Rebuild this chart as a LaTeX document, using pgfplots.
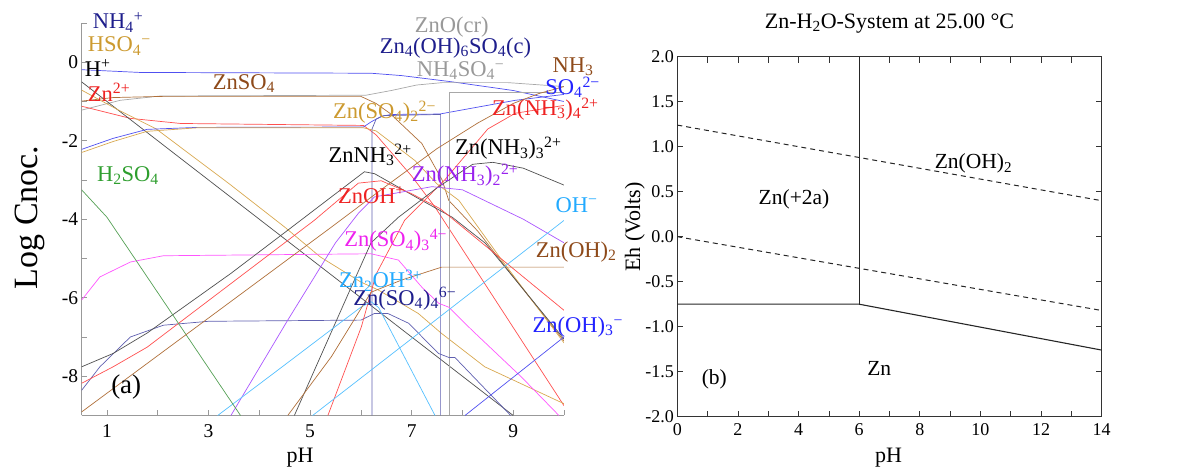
\documentclass[border=0pt]{standalone}
\usepackage{fontspec}
\setmainfont{Liberation Serif}
\usepackage{pgfplots}
\pgfplotsset{compat=1.18}
\definecolor{lBlue}{HTML}{5050F0}
\definecolor{lGray}{HTML}{A8A8A8}
\definecolor{lBrown}{HTML}{B0703A}
\definecolor{lRed}{HTML}{FF5050}
\definecolor{lBlack}{HTML}{505050}
\definecolor{lGold}{HTML}{D8A850}
\definecolor{lNavy}{HTML}{6060B0}
\definecolor{lMag}{HTML}{FF55FF}
\definecolor{lPurple}{HTML}{AA55FF}
\definecolor{lLB}{HTML}{55C0FF}
\definecolor{lGreen}{HTML}{55A055}
\definecolor{tNavy}{HTML}{1E1E8C}
\definecolor{tGold}{HTML}{CC9A30}
\definecolor{tRed}{HTML}{EE2222}
\definecolor{tBrown}{HTML}{8E4A1A}
\definecolor{tGreen}{HTML}{2E9E2E}
\definecolor{tGray}{HTML}{999999}
\definecolor{tBlue}{HTML}{2222FF}
\definecolor{tPurple}{HTML}{9922EE}
\definecolor{tLB}{HTML}{22AAFF}
\definecolor{tMag}{HTML}{EE22EE}
\newcommand{\Sb}[1]{\textsubscript{#1}}
\newcommand{\Sp}[1]{\textsuperscript{#1}}
\begin{document}
\begin{tikzpicture}[x=1pt,y=1pt]
\useasboundingbox (0,0) rectangle (1187,470);
% ---------------- left panel ----------------
\begin{axis}[at={(81.6pt,54.5pt)}, anchor=south west, scale only axis,
  width=482.4pt, height=392.5pt,
  xmin=0.5, xmax=10, ymin=-9, ymax=1,
  axis x line=bottom, axis y line=left,
  axis line style={-, gray!80, line width=0.7pt},
  tick align=inside,
  xtick={1,3,5,7,9}, xticklabels={1,3,5,7,9},
  minor xtick={2,4,6,8,10},
  ytick={-8,-6,-4,-2,0}, yticklabels={-8,-6,-4,-2,0},
  minor ytick={-9,-7,-5,-3,-1,1},
  major tick length=5pt, minor tick length=5pt,
  tick style={gray!80, line width=0.6pt},
  ticklabel style={font=\fontsize{19.5}{19.5}\selectfont},
  xticklabel style={yshift=-6pt},
  xlabel={pH},
  xlabel style={at={(axis description cs:0.453,0)}, anchor=center, yshift=-42pt, font=\fontsize{22}{22}\selectfont},
  ylabel={Log Cnoc.},
  ylabel style={at={(axis description cs:-0.107,0.505)}, anchor=center, font=\fontsize{34}{34}\selectfont},
  clip mode=individual,
  every axis plot/.append style={line width=0.7pt, line join=round},
  label style={inner sep=0pt}]
% NH4+
\addplot[lBlue] coordinates {(0.5,-0.19)(1.65,-0.26)(6.2,-0.28)(6.8,-0.34)(7.8,-0.5)(9.0,-0.72)(10,-1.0)};
% NH4SO4-
\addplot[lGray] coordinates {(0.5,-1.22)(1.26,-0.97)(2.05,-0.86)(6.1,-0.84)(6.6,-0.72)(7.1,-0.58)(7.6,-0.52)(8.9,-0.52)(10,-0.62)};
% ZnSO4
\addplot[lBrown] coordinates {(0.5,-0.99)(1.12,-0.9)(2.1,-0.87)(6.0,-0.87)(6.3,-1.05)(6.57,-1.3)(7.2,-2.07)(7.6,-3.0)(7.73,-3.52)(8.3,-4.3)(8.84,-5.2)(10,-7.1)};
% Zn2+
\addplot[lRed] coordinates {(0.5,-1.12)(1.46,-1.43)(2.45,-1.56)(6.05,-1.61)(6.3,-1.85)(7.0,-2.9)(7.46,-3.69)(10,-8.75)};
% H+
\addplot[lBlack] coordinates {(0.5,-0.5)(9.0,-9.0)};
% HSO4-
\addplot[lGold] coordinates {(0.5,-0.71)(1.2,-1.2)(1.97,-1.7)(3.4,-3.09)(4.5,-4.2)(5.2,-4.96)(6.0,-5.6)(6.34,-5.8)(7.13,-6.4)(7.58,-6.9)(8.44,-7.76)(8.84,-8.0)(10,-8.7)};
% SO4 2-
\addplot[lBlue] coordinates {(0.5,-2.22)(1.12,-1.94)(1.79,-1.71)(2.78,-1.66)(6.05,-1.65)(6.2,-1.52)(6.4,-1.38)(6.6,-1.33)(7.55,-1.32)(9.04,-0.97)(10,-0.82)};
% Zn(SO4)2 2-
\addplot[lGold] coordinates {(0.5,-2.3)(1.12,-2.02)(1.79,-1.76)(2.78,-1.67)(6.05,-1.67)(6.3,-1.75)(7.06,-2.5)(7.5,-3.1)(7.93,-3.52)(8.78,-5.05)(10,-7.15)};
% Zn4(OH)6SO4(c)
\addplot[lNavy] coordinates {(6.22,-9)(6.22,-1.7)(6.3,-1.45)(6.45,-1.36)(7.57,-1.33)(7.57,-9)};
% ZnO(cr)
\addplot[lGray] coordinates {(7.74,-9)(7.74,-0.76)(10,-0.76)};
% Zn(SO4)3 4-
\addplot[lMag] coordinates {(0.5,-6.06)(0.86,-5.47)(1.46,-5.09)(2.11,-4.93)(6.2,-4.88)(6.74,-5.04)(7.2,-5.73)(7.53,-6.14)(7.73,-6.24)(8.19,-6.83)(9.17,-8.03)(9.9,-9.0)};
% Zn(SO4)4 6-
\addplot[lNavy] coordinates {(0.5,-8.36)(0.86,-7.76)(1.46,-7.0)(2.11,-6.7)(3,-6.6)(6.0,-6.57)(6.27,-6.4)(6.53,-6.4)(6.94,-6.65)(7.53,-7.42)(7.73,-7.52)(7.85,-7.52)(8.95,-9.0)};
% ZnNH3 2+
\addplot[lBlack] coordinates {(0.5,-7.76)(1.12,-7.42)(1.79,-6.9)(3.44,-5.38)(4.56,-4.28)(5.42,-3.43)(6.07,-2.79)(6.27,-2.84)(7.2,-3.52)(7.8,-3.95)(8.45,-4.61)(8.84,-5.22)(10,-7.05)};
% ZnOH+
\addplot[lRed] coordinates {(0.5,-8.18)(1.12,-7.76)(1.79,-7.26)(5.08,-4.03)(5.95,-3.08)(6.4,-3.02)(7.0,-3.35)(7.56,-3.73)(10,-6.32)};
% Zn(NH3)4 2+
\addplot[lRed] coordinates {(5.35,-9)(6.01,-6.74)(6.3,-5.4)(6.86,-4.03)(7.65,-3.0)(8.5,-1.7)(9.04,-1.3)(10,-1.1)};
% Zn(NH3)3 2+
\addplot[lBlack] coordinates {(4.69,-9)(5.81,-5.73)(6.2,-4.6)(6.74,-3.95)(7.5,-3.2)(8.2,-2.6)(8.6,-2.55)(9.2,-2.7)(10,-3.13)};
% Zn(NH3)2 2+
\addplot[lPurple] coordinates {(3.44,-9)(4.56,-6.57)(5.5,-4.6)(5.95,-3.85)(6.27,-3.43)(7.4,-3.17)(8.0,-3.25)(8.4,-3.5)(9.2,-4.0)(10,-4.6)};
% OH-
\addplot[lLB] coordinates {(5.05,-9)(10,-4.03)};
% Zn2OH3+
\addplot[lLB] coordinates {(3.18,-9)(4.43,-7.78)(6.0,-6.24)(6.2,-6.1)(6.35,-6.25)(7.46,-9)};
% H2SO4
\addplot[lGreen] coordinates {(0.5,-3.25)(1.0,-3.95)(3.63,-9)};
% NH3
\addplot[lBrown] coordinates {(0.5,-8.91)(5.42,-4.2)(6.5,-3.15)(7.5,-2.2)(8.3,-1.55)(9.0,-1.05)(9.5,-0.8)(10,-0.62)};
% Zn(OH)2
\addplot[lBrown] coordinates {(4.56,-9)(5.42,-7.5)(6.2,-5.86)(6.8,-5.55)(7.59,-5.22)(10,-5.22)};
% Zn(OH)3-
\addplot[lBlue] coordinates {(8.05,-9)(10,-7.0)};
% labels
\begin{scope}[every node/.style={anchor=west, inner sep=0pt, font=\fontsize{22.5}{22.5}\selectfont}]
\node[tNavy] at (axis cs:0.72,1.02) {NH\Sb{4}\Sp{+}};
\node[tGold] at (axis cs:0.62,0.41) {HSO\Sb{4}\Sp{−}};
\node[black] at (axis cs:0.56,-0.15) {H\Sp{+}};
\node[tRed] at (axis cs:0.62,-0.76) {Zn\Sp{2+}};
\node[tBrown] at (axis cs:3.08,-0.54) {ZnSO\Sb{4}};
\node[tGreen] at (axis cs:0.8,-2.88) {H\Sb{2}SO\Sb{4}};
\node[black, font=\fontsize{27}{27}\selectfont] at (axis cs:1.08,-8.28) {(a)};
\node[tGray] at (axis cs:7.06,0.9) {ZnO(cr)};
\node[tNavy] at (axis cs:6.37,0.37) {Zn\Sb{4}(OH)\Sb{6}SO\Sb{4}(c)};
\node[tGray] at (axis cs:7.1,-0.22) {NH\Sb{4}SO\Sb{4}\Sp{−}};
\node[tBrown] at (axis cs:9.77,-0.12) {NH\Sb{3}};
\node[tBlue] at (axis cs:9.63,-0.64) {SO\Sb{4}\Sp{2−}};
\node[tRed] at (axis cs:8.58,-1.19) {Zn(NH\Sb{3})\Sb{4}\Sp{2+}};
\node[tGold] at (axis cs:5.45,-1.27) {Zn(SO\Sb{4})\Sb{2}\Sp{2−}};
\node[black] at (axis cs:5.36,-2.37) {ZnNH\Sb{3}\Sp{2+}};
\node[black] at (axis cs:7.85,-2.19) {Zn(NH\Sb{3})\Sb{3}\Sp{2+}};
\node[tPurple] at (axis cs:7.0,-2.88) {Zn(NH\Sb{3})\Sb{2}\Sp{2+}};
\node[tRed] at (axis cs:5.55,-3.39) {ZnOH\Sp{+}};
\node[tLB] at (axis cs:9.83,-3.64) {OH\Sp{−}};
\node[tMag] at (axis cs:5.67,-4.54) {Zn(SO\Sb{4})\Sb{3}\Sp{4−}};
\node[tBrown] at (axis cs:9.44,-4.84) {Zn(OH)\Sb{2}};
\node[tLB] at (axis cs:5.57,-5.56) {Zn\Sb{2}OH\Sp{3+}};
\node[tNavy] at (axis cs:5.85,-6.02) {Zn(SO\Sb{4})\Sb{4}\Sp{6−}};
\node[tBlue] at (axis cs:9.38,-6.75) {Zn(OH)\Sb{3}\Sp{−}};
\end{scope}
\end{axis}
% ---------------- right panel ----------------
\begin{axis}[at={(677.3pt,53.3pt)}, anchor=south west, scale only axis,
  width=424.4pt, height=360pt,
  xmin=0, xmax=14, ymin=-2, ymax=2,
  xtick={0,2,4,6,8,10,12,14}, xticklabels={0,2,4,6,8,10,12,14},
  minor xtick={1,3,5,7,9,11,13},
  ytick={-2,-1.5,-1,-0.5,0,0.5,1,1.5,2},
  yticklabels={-2.0,-1.5,-1.0,-0.5,0.0,0.5,1.0,1.5,2.0},
  tick align=inside,
  major tick length=6pt, minor tick length=6pt,
  axis line style={line width=0.8pt, black!80},
  tick style={line width=0.7pt, black!80},
  ticklabel style={font=\fontsize{18}{18}\selectfont},
  xticklabel style={yshift=-3pt},
  title={Zn-H\Sb{2}O-System at 25.00 °C},
  title style={at={(axis description cs:0.5,1)}, anchor=center, yshift=27pt, font=\fontsize{22}{22}\selectfont},
  xlabel={pH},
  xlabel style={at={(axis description cs:0.498,0)}, anchor=center, yshift=-41pt, font=\fontsize{22}{22}\selectfont},
  ylabel={Eh (Volts)},
  ylabel style={at={(axis description cs:-0.1,0.527)}, anchor=center, font=\fontsize{22}{22}\selectfont},
  clip mode=individual]
\addplot[black!85, line width=1.1pt] coordinates {(6,2)(6,-0.75)};
\addplot[black!85, line width=1.1pt] coordinates {(0,-0.75)(6,-0.75)(14,-1.26)};
\addplot[black!85, line width=1.0pt, dash pattern=on 5pt off 4pt] coordinates {(0,1.24)(14,0.40)};
\addplot[black!85, line width=1.0pt, dash pattern=on 5pt off 4pt] coordinates {(0,0)(14,-0.82)};
\begin{scope}[every node/.style={inner sep=0pt, font=\fontsize{21.5}{21.5}\selectfont}]
\node at (axis cs:3.85,0.41) {Zn(+2a)};
\node at (axis cs:9.77,0.81) {Zn(OH)\Sb{2}};
\node at (axis cs:6.66,-1.46) {Zn};
\node at (axis cs:1.22,-1.59) {(b)};
\end{scope}
\end{axis}
\end{tikzpicture}
\end{document}
